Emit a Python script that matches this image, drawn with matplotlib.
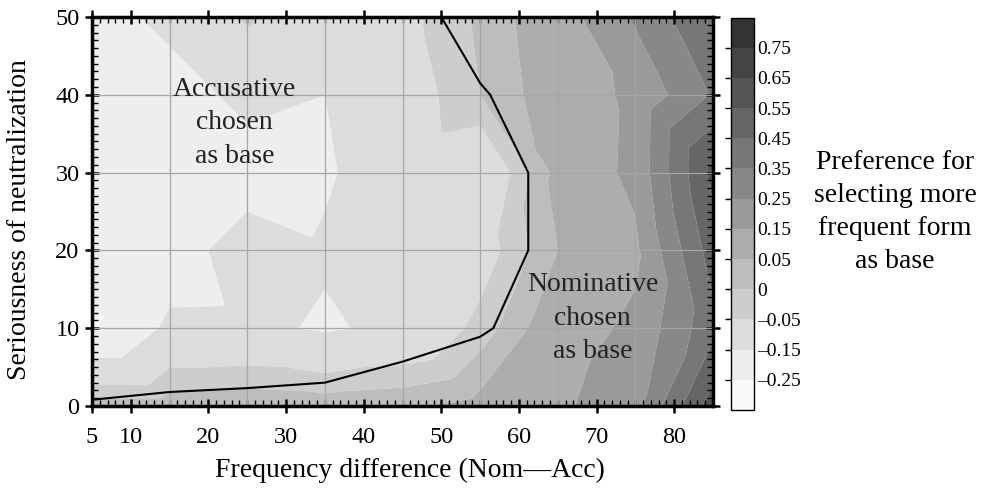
import matplotlib
matplotlib.use("Agg")
import matplotlib.pyplot as plt
import matplotlib.tri as mtri
import numpy as np

plt.rcParams['font.family'] = ['Liberation Serif', 'DejaVu Serif']

# grid of simulations: frequency difference (Nom-Acc) x seriousness of neutralization
freq_diff = [5, 15, 25, 35, 45, 55, 65, 75, 85]
seriousness = [0, 10, 20, 30, 40, 50]

# preference for selecting the more frequent form as base, one row per seriousness value
pref = [
    [0.027, 0.029, 0.038, 0.03, 0.04, 0.07, 0.13, 0.22, 0.6],     # 0
    [-0.26, -0.132, -0.13, -0.16, -0.13, -0.03, 0.1, 0.17, 0.42],  # 10
    [-0.2, -0.2, -0.1, -0.14, -0.1, -0.085, 0.05, 0.13, 0.5],      # 20
    [-0.2, -0.2, -0.2, -0.16, -0.1, -0.126, 0.07, 0.175, 0.58],    # 30
    [-0.2, -0.2, -0.12, -0.15, -0.093, 0.0, 0.09, 0.171, 0.36],    # 40
    [-0.2, -0.12, -0.04, -0.1, -0.07, 0.01, 0.1, 0.265, 0.45],     # 50
]

# boundary between "accusative" and "nominative" regions
boundary_x = [5, 15, 25, 35, 45, 55, 56.7, 61.2, 61.2, 56.3, 55, 50]
boundary_y = [0.8, 1.8, 2.3, 3.0, 5.7, 8.9, 10, 20, 30, 40, 41.5, 50]

levels = [-0.35, -0.25, -0.15, -0.05, 0, 0.05, 0.15, 0.25, 0.35, 0.45, 0.55, 0.65, 0.75, 0.85]
level_labels = ['\u20130.25', '\u20130.15', '\u20130.05', '0', '0.05', '0.15', '0.25',
                '0.35', '0.45', '0.55', '0.65', '0.75']
band_colors = ['#fafafa', '#eeeeee', '#dcdcdc', '#cdcdcd', '#bdbdbd', '#adadad', '#9a9a9a',
               '#888888', '#777777', '#666666', '#555555', '#444444', '#333333']

# build triangulation with alternating diagonals
nx, ny = len(freq_diff), len(seriousness)
X, Y = np.meshgrid(freq_diff, seriousness)
Z = np.array(pref)
tris = []
for j in range(ny - 1):
    for i in range(nx - 1):
        ll = j * nx + i
        lr = ll + 1
        ul = ll + nx
        ur = ul + 1
        if (i + j) % 2 == 1:
            tris += [[ll, lr, ur], [ll, ur, ul]]
        else:
            tris += [[ll, lr, ul], [lr, ur, ul]]
tri = mtri.Triangulation(X.ravel(), Y.ravel(), tris)

fig = plt.figure(figsize=(9.84, 4.9), dpi=100)
ax = fig.add_axes([92 / 984, 1 - 406 / 490, (713 - 92) / 984, (406 - 17) / 490])

cf = ax.tricontourf(tri, Z.ravel(), levels=levels, colors=band_colors, antialiased=True)

for xv in freq_diff[1:-1]:
    ax.axvline(xv, color='#a6a6a6', lw=0.9, zorder=2)
for yv in seriousness[1:-1]:
    ax.axhline(yv, color='#a6a6a6', lw=0.9, zorder=2)

ax.plot(boundary_x, boundary_y, color='black', lw=1.5, zorder=3)

ax.set_xlim(5, 85)
ax.set_ylim(0, 50)
ax.set_xticks([5, 10, 20, 30, 40, 50, 60, 70, 80])
ax.set_xticks(np.arange(5, 86, 1), minor=True)
ax.set_yticks([0, 10, 20, 30, 40, 50])
ax.set_yticks(np.arange(0, 51, 1), minor=True)
ax.tick_params(which='major', direction='inout', length=10, width=1.8, labelsize=17.5,
               top=True, right=True, pad=4)
ax.tick_params(which='minor', direction='in', length=4, width=1.0, top=True, right=True)
ax.tick_params(axis='x', which='major', pad=10)
for sp in ax.spines.values():
    sp.set_linewidth(2.5)

ax.text(23.4, 36.4, 'Accusative\nchosen\nas base', ha='center', va='center',
        fontsize=20, linespacing=1.45, color='#222222', zorder=4)
ax.text(69.5, 11.3, 'Nominative\nchosen\nas base', ha='center', va='center',
        fontsize=20, linespacing=1.45, color='#222222', zorder=4)

fig.text(410 / 984, 1 - 470 / 490, 'Frequency difference (Nom\u2014Acc)', ha='center',
         va='center', fontsize=20)
fig.text(20 / 984, 1 - 220 / 490, 'Seriousness of neutralization', ha='center',
         va='center', rotation=90, fontsize=20)

cax = fig.add_axes([731 / 984, 1 - 410 / 490, 23 / 984, (410 - 17.5) / 490])
cb = fig.colorbar(cf, cax=cax, ticks=levels[1:-1])
cb.ax.set_yticklabels(level_labels)
cb.outline.set_linewidth(1.0)
cb.ax.tick_params(left=True, right=False, labelleft=False, labelright=True,
                  direction='out', length=4, width=1.0, labelsize=14, pad=-2)

fig.text(895 / 984, 1 - 212 / 490, 'Preference for\nselecting more\nfrequent form\nas base',
         ha='center', va='center', fontsize=20, linespacing=1.42)

fig.savefig('out.png', dpi=100)
